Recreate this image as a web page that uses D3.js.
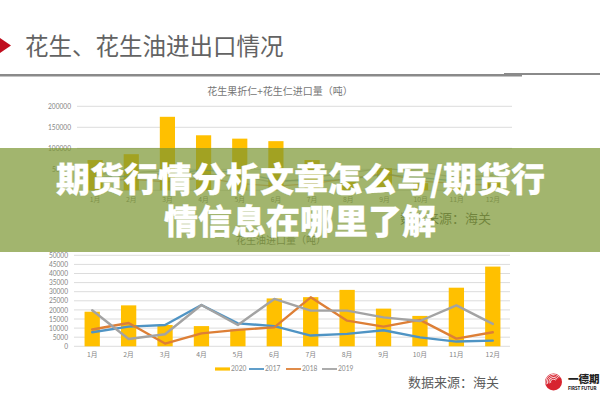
<!DOCTYPE html>
<html lang="zh">
<head>
<meta charset="utf-8">
<script src="https://cdn.jsdelivr.net/npm/d3@7/dist/d3.min.js"></script>
<style>
html,body{margin:0;padding:0;background:#fff;overflow:hidden}
svg{display:block}
text{font-family:"Noto Sans CJK SC","Noto Sans",sans-serif}
.num{font-family:Lato,"Liberation Sans",sans-serif}
</style>
</head>
<body>
<svg id="chart" width="600" height="400"></svg>
<script>
const months = ["1月","2月","3月","4月","5月","6月","7月","8月","9月","10月","11月","12月"];

// 花生果折仁+花生仁进口量（吨）
const kernel2020 = [72000,86000,175000,131000,123000,117000,72000,20000,53000,17000,12000,30000];
const kernel2017 = [30000,34000,40000,48000,42000,24000,22000,26000,38000,30000,22000,28000];
const kernel2018 = [22000,26000,20000,30000,16000,10000,16000,28000,40000,22000,16000,12000];
const kernel2019 = [38000,42000,46000,38000,34000,18000,30000,42000,52000,44000,30000,36000];

// 花生油进口量（吨）
const oil2020 = [19000,22500,11700,11100,9300,26300,27000,31000,20700,16700,32200,43800];
const oil2017 = [7700,10800,11700,22700,12600,11100,5900,6800,8800,4900,2600,3100];
const oil2018 = [9200,12800,1500,7100,9000,10400,26900,14100,10800,14500,4200,7700];
const oil2019 = [19800,4000,6600,22700,11700,26000,19600,19600,15900,13900,22500,12300];

const kernelTicks = [0,50000,100000,150000,200000];
const oilTicks = [0,5000,10000,15000,20000,25000,30000,35000,40000,45000,50000];

const seriesNames = ["2020","2017","2018","2019"];
const barColor = "#ffc000";
const lineColors = {"2017":"#4f94c4","2018":"#dd7f36","2019":"#a3a3a3"};

const headline = "花生、花生油进出口情况";
const kernelTitle = "花生果折仁+花生仁进口量（吨）";
const oilTitle = "花生油进口量（吨）";
const sourceNote = "数据来源：海关";
const bannerLines = ["期货行情分析文章怎么写/期货行","情信息在哪里了解"];

const svg = d3.select("#chart");

// slide heading and rule
svg.append("path").attr("d",d3.line()([[0,38],[11,45.5],[0,53]])).attr("fill","#c00d1e");
svg.append("text").text(headline).attr("x",25).attr("y",55).attr("font-size",23.5).attr("fill","#636363");
svg.append("rect").attr("x",0).attr("y",74).attr("width",522).attr("height",2.5).attr("fill","#8a8a8a");
svg.append("rect").attr("x",504).attr("y",73).attr("width",96).attr("height",2).attr("fill","#8a8a8a");

function drawPanel(cfg){
  const x = d3.scaleBand().domain(months).range(cfg.xRange).paddingInner(0.58).paddingOuter(0.29);
  const y = d3.scaleLinear().domain([0,cfg.max]).range(cfg.yRange);
  const g = svg.append("g");
  const cx = m => x(m)+x.bandwidth()/2;

  g.append("text").text(cfg.title).attr("x",cfg.titleX).attr("y",cfg.titleY)
    .attr("text-anchor","middle").attr("font-size",10).attr("fill","#767676");

  g.append("g").selectAll("line").data(cfg.ticks).join("line")
    .attr("x1",cfg.gridX[0]).attr("x2",cfg.gridX[1])
    .attr("y1",d=>y(d)).attr("y2",d=>y(d))
    .attr("stroke","#dcdcdc").attr("stroke-width",1);

  const yAxis = d3.axisLeft(y).tickValues(cfg.ticks).tickSize(0).tickPadding(0).tickFormat(d3.format("d"));
  const ya = g.append("g").attr("transform",`translate(${cfg.labelX},0)`).call(yAxis);
  ya.select(".domain").remove();
  ya.selectAll("text").attr("class","num").attr("font-size",6.6).attr("fill","#858585");

  g.append("g").selectAll("rect").data(cfg.bars).join("rect")
    .attr("x",(d,i)=>x(months[i])).attr("width",x.bandwidth())
    .attr("y",d=>y(d)).attr("height",d=>y(0)-y(d)).attr("fill",barColor);

  const line = d3.line().x((d,i)=>cx(months[i])).y(d=>y(d));
  cfg.lines.forEach(([name,vals])=>{
    g.append("path").attr("d",line(vals)).attr("fill","none")
      .attr("stroke",lineColors[name]).attr("stroke-width",cfg.lineWidth)
      .attr("stroke-opacity",cfg.lineOpacity)
      .attr("stroke-linejoin","round").attr("stroke-linecap","round");
  });

  const xa = g.append("g").attr("transform",`translate(0,${cfg.monthY})`)
    .call(d3.axisBottom(x).tickSize(0).tickPadding(0));
  xa.select(".domain").remove();
  xa.selectAll("text").attr("font-size",6.8).attr("fill","#858585").attr("dy","0.35em");

  // legend row
  if(cfg.legendY){
    const lg = g.append("g").attr("transform",`translate(0,${cfg.legendY})`);
    const legendX = d3.scalePoint().domain(seriesNames).range([215,323]);
    seriesNames.forEach((name,i)=>{
      const lx = legendX(name)+(i?-1+ (i===1?-1:0):0);
      lg.append("line").attr("x1",lx).attr("x2",lx+15).attr("y1",0).attr("y2",0)
        .attr("stroke",i?lineColors[name]:barColor).attr("stroke-width",i?1.8:3.2);
      lg.append("text").text(name).attr("class","num").attr("x",lx+16).attr("y",2.4)
        .attr("font-size",6.6).attr("fill","#8a8a8a");
    });
  }

  g.append("text").text(sourceNote).attr("x",cfg.noteX).attr("y",cfg.noteY)
    .attr("font-size",13).attr("fill","#5c5c5c");
}

drawPanel({
  title:kernelTitle,titleX:280,titleY:95,
  xRange:[77,511],yRange:[190.3,106.3],max:200000,ticks:kernelTicks,
  gridX:[77,512],labelX:71,bars:kernel2020,
  lines:[["2017",kernel2017],["2018",kernel2018],["2019",kernel2019]],lineWidth:1.3,lineOpacity:0.6,
  monthY:200,noteX:400,noteY:223
});

drawPanel({
  title:oilTitle,titleX:281,titleY:244,
  xRange:[74,511],yRange:[346.3,255.3],max:50000,ticks:oilTicks,
  gridX:[74,510],labelX:68,bars:oil2020,
  lines:[["2017",oil2017],["2018",oil2018],["2019",oil2019]],lineWidth:2.4,lineOpacity:1,
  monthY:355,legendY:369,noteX:408,noteY:387
});

// company mark in the lower corner
const mark = svg.append("g").attr("transform","translate(553.5,382)");
mark.append("circle").attr("r",8.5).attr("fill","#d7232f");
d3.range(4).forEach(i=>{
  mark.append("path").attr("d",d3.arc()({innerRadius:2.5+i*1.6,outerRadius:3.2+i*1.6,startAngle:-1.9,endAngle:0.9}))
    .attr("fill","#fff");
});
svg.append("text").text("一德期").attr("x",568).attr("y",383).attr("font-size",10.5).attr("font-weight",900).attr("fill","#222");
svg.append("text").text("FIRST FUTUR").attr("class","num").attr("x",568).attr("y",390).attr("font-size",4.6).attr("font-weight",900).attr("fill","#222");

// translucent banner with the article title
svg.append("rect").attr("x",0).attr("y",148).attr("width",600).attr("height",104).attr("fill","rgba(122,149,49,0.7)");
bannerLines.forEach((t,i)=>{
  svg.append("text").text(t).attr("x",i?300:300.5).attr("y",192+i*41.5)
    .attr("text-anchor","middle").attr("font-size",34).attr("font-weight",900).attr("fill","#fff")
    .attr("stroke","#fff").attr("stroke-width",0.3).attr("stroke-linejoin","round");
});
</script>
</body>
</html>
